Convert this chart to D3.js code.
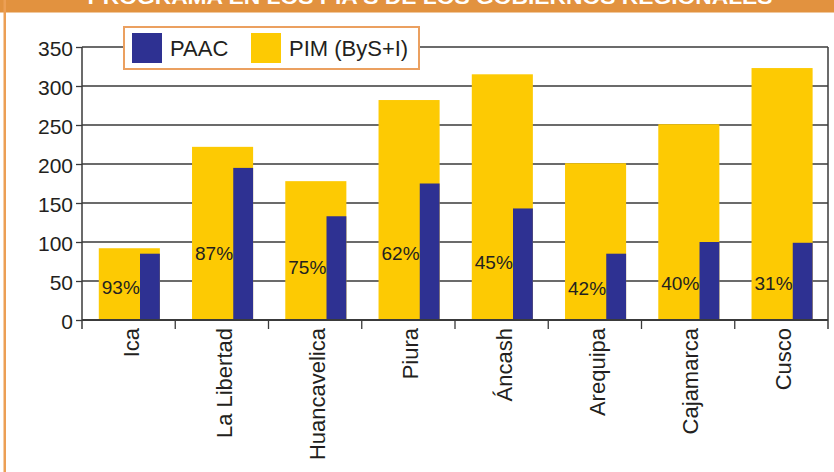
<!DOCTYPE html>
<meta charset="utf-8">
<style>
  body { margin: 0; background: #fff; }
  svg text { font-family: "Liberation Sans", Arial, sans-serif; fill: #231f20; }
</style>
<div class="chart"></div>
<script src="https://cdn.jsdelivr.net/npm/d3@7"></script>
<script>
    var regions = ["Ica", "La Libertad", "Huancavelica", "Piura", "Áncash", "Arequipa", "Cajamarca", "Cusco"];
    var pim = [92, 222, 178, 282, 315, 201, 251, 323];
    var paac = [85, 195, 133, 175, 143, 85, 100, 99];
    var pctLabels = ["93%", "87%", "75%", "62%", "45%", "42%", "40%", "31%"];
    var pctAt = [42, 86, 68, 86, 74, 40, 47, 47];
    var yTicks = [0, 50, 100, 150, 200, 250, 300, 350];
    var seriesNames = ["PAAC", "PIM (ByS+I)"];
    var title = "PROGRAMA EN LOS PIA'S DE LOS GOBIERNOS REGIONALES";

    var W = 834, H = 472,
        margin = {top: 47, right: 6, bottom: 152, left: 82};
    var width = W - margin.left - margin.right,
        height = H - margin.top - margin.bottom;

    var blue = "#2e3192", yellow = "#fdca03", orange = "#e2923f", grid = "#3a3a3a";

    var data = regions.map((r, i) => ({region: r, pim: pim[i], paac: paac[i], pct: pctLabels[i], at: pctAt[i]}));

    var svg = d3.select(".chart").append("svg")
        .attr("width", W)
        .attr("height", H);

    // frame + title band
    svg.append("rect").attr("x", 0).attr("y", 0).attr("width", W).attr("height", 12.5).attr("fill", orange);
    svg.append("rect").attr("x", 3.5).attr("y", 0).attr("width", 2.5).attr("height", H).attr("fill", "#ec9f55");
    svg.append("text")
        .attr("x", 430).attr("y", 3.5)
        .attr("text-anchor", "middle")
        .attr("font-weight", "bold")
        .attr("font-size", 20)
        .attr("textLength", 685)
        .attr("lengthAdjust", "spacingAndGlyphs")
        .style("fill", "#fff")
        .text(title);

    var g = svg.append("g").attr("transform", "translate(" + margin.left + "," + margin.top + ")");

    var x = d3.scaleBand().domain(regions).range([0, width]);
    var y = d3.scaleLinear().domain([0, 350]).range([height, 0]);
    var bw = x.bandwidth();

    // gridlines
    g.selectAll(".grid").data(yTicks).enter().append("line")
        .attr("x1", 0).attr("x2", width)
        .attr("y1", d => y(d)).attr("y2", d => y(d))
        .attr("stroke", grid).attr("stroke-width", 1.3);

    // bars
    g.selectAll(".pim").data(data).enter().append("rect")
        .attr("x", d => x(d.region) + bw * 0.18)
        .attr("width", bw * 0.655)
        .attr("y", d => y(d.pim))
        .attr("height", d => y(0) - y(d.pim))
        .attr("fill", yellow);

    g.selectAll(".paac").data(data).enter().append("rect")
        .attr("x", d => x(d.region) + bw * 0.622)
        .attr("width", bw * 0.213)
        .attr("y", d => y(d.paac))
        .attr("height", d => y(0) - y(d.paac))
        .attr("fill", blue);

    g.selectAll(".pct").data(data).enter().append("text")
        .attr("x", d => x(d.region) + bw * 0.18 + 3)
        .attr("y", d => y(d.at))
        .attr("dy", "0.35em")
        .attr("font-size", 19)
        .text(d => d.pct);

    // y axis
    var yAxis = d3.axisLeft(y).tickValues(yTicks).tickSize(6).tickPadding(3);
    var ya = g.append("g").call(yAxis);
    ya.select(".domain").remove();
    ya.selectAll(".tick line").attr("stroke", grid).attr("stroke-width", 1.3);
    ya.selectAll(".tick text")
        .attr("font-size", 21)
        .attr("dy", "0.4em")
        .style("fill", "#231f20");

    // axis frame lines
    g.append("line").attr("x1", 0).attr("x2", 0).attr("y1", 0).attr("y2", height + 9)
        .attr("stroke", grid).attr("stroke-width", 1.5);
    g.append("line").attr("x1", width).attr("x2", width).attr("y1", 0).attr("y2", height + 9)
        .attr("stroke", grid).attr("stroke-width", 1.5);
    g.append("line").attr("x1", 0).attr("x2", width).attr("y1", height).attr("y2", height)
        .attr("stroke", grid).attr("stroke-width", 1.8);

    // x ticks on band edges
    g.selectAll(".xtick").data(regions.slice(1)).enter().append("line")
        .attr("x1", d => x(d)).attr("x2", d => x(d))
        .attr("y1", height).attr("y2", height + 9)
        .attr("stroke", grid).attr("stroke-width", 1.3);

    // x labels
    g.selectAll(".xlab").data(regions).enter().append("text")
        .attr("transform", d => "translate(" + (x(d) + bw / 2) + "," + (height + 8) + ") rotate(-90)")
        .attr("text-anchor", "end")
        .attr("dy", "0.45em")
        .attr("font-size", 22)
        .text(d => d);

    // legend
    var lg = svg.append("g").attr("transform", "translate(124,27)");
    lg.append("rect").attr("width", 295).attr("height", 42)
        .attr("fill", "#fff").attr("stroke", "#eba060").attr("stroke-width", 2);
    var items = lg.selectAll(".item").data(seriesNames).enter().append("g")
        .attr("transform", (d, i) => "translate(" + (i ? 127 : 8) + ",6)");
    items.append("rect").attr("width", 30).attr("height", 30)
        .attr("fill", (d, i) => i ? yellow : blue);
    items.append("text").attr("x", 38).attr("y", 23)
        .attr("font-size", 22)
        .text(d => d);
</script>
